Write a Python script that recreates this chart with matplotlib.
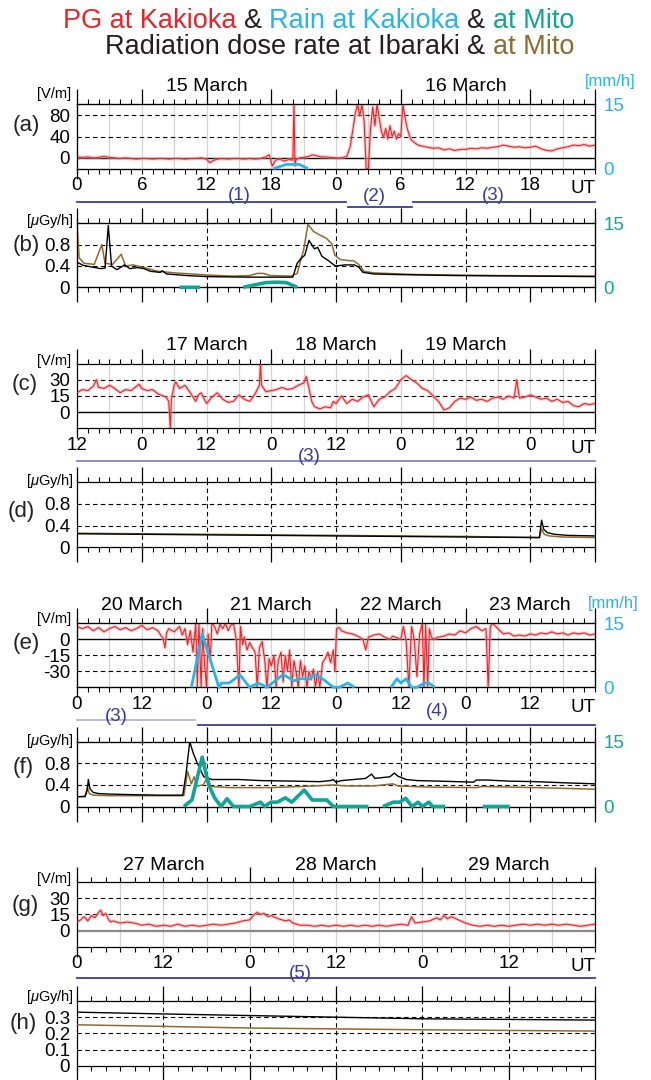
import numpy as np
import matplotlib
matplotlib.use("Agg")
import matplotlib.pyplot as plt
import matplotlib.transforms as mtransforms
from matplotlib.ticker import MultipleLocator, FixedLocator

plt.rcParams["font.family"] = ["Liberation Sans", "DejaVu Sans"]
plt.rcParams["mathtext.fontset"] = "custom"
plt.rcParams["mathtext.it"] = "Liberation Sans:italic"
plt.rcParams["mathtext.rm"] = "Liberation Sans"

RED = "#ec2229"
PINK = "#f6a3a3"
CYAN = "#27b4e8"
TEAL = "#10a596"
BROWN = "#8d6b30"
NAVY = "#3b3b9b"
LAVENDER = "#8585c4"
PALE = "#b3b4e3"

# ---- (a) PG at Kakioka, 15-16 March (hours from 15 Mar 00 UT) ----
pg_a_t = [0, 0.5, 1, 1.5, 2, 2.5, 3, 3.5, 4, 4.5, 5, 5.5, 6, 6.5, 7, 7.5, 8, 8.5, 9, 9.5,
          10, 10.5, 11, 11.5, 12, 12.3, 12.6, 13, 13.5, 14, 14.5, 15, 15.5, 16, 16.5, 17,
          17.5, 17.8, 18.1, 18.4, 18.8, 19.2, 19.6, 20.0, 20.1, 20.2, 20.3, 20.6, 21, 21.5,
          21.8, 22.2, 22.6, 23, 23.5, 24, 24.5, 25, 25.3, 25.6, 25.8, 26.0, 26.2, 26.4, 26.6,
          26.8, 27.0, 27.2, 27.4, 27.6, 27.8, 28.0, 28.2, 28.4, 28.6, 28.8, 29.0, 29.2, 29.4,
          29.6, 29.8, 30.0, 30.2, 30.4, 30.6, 30.8, 31.0, 31.3, 31.6, 32, 32.5, 33, 33.5, 34,
          34.5, 35, 35.5, 36, 36.5, 37, 37.5, 38, 38.5, 39, 39.5, 40, 40.5, 41, 41.5, 42, 42.5,
          43, 43.5, 44, 44.5, 45, 45.5, 46, 46.5, 47, 47.5, 48]
pg_a_v = [2, 1, 2, 0, 1, 3, 1, 0, -1, 0, -1, -2, -1, -1, -2, -1, -1, -2, -1, -1,
          -2, -1, -1, 0, -2, -9, -5, -2, -1, -2, -1, -1, -2, -1, -2, -1,
          2, 6, -15, -4, -2, -6, -3, -4, 100, -15, -3, 0, 1, 3,
          6, 4, 2, 2, 1, 0, 0, 3, 20, 58, 85, 100, 78, 100, 70,
          -20, -20, 55, 95, 60, 100, 75, 50, 38, 55, 35, 60, 40, 50,
          35, 45, 40, 100, 75, 55, 42, 33, 28, 24, 22, 20, 18, 19, 15,
          17, 14, 16, 16, 18, 17, 19, 18, 20, 21, 24, 22, 20, 21, 19, 20, 22,
          17, 14, 13, 17, 19, 21, 24, 23, 25, 22, 24]
rain_kak_a_t = [18.2, 19.4, 20.6, 21.4]
rain_kak_a_v = [0, 1.0, 1.0, 0]

# ---- (b) dose rate, 15-16 March ----
dose_ib_b_t = [0, 0.6, 1.4, 2.2, 2.6, 2.9, 3.2, 3.7, 4.4, 4.9, 5.6, 6.2, 6.8, 7.7, 7.9, 8.3,
               10.2, 12.1, 16, 20.0, 20.4, 20.8, 21.1, 21.5, 22.0, 22.3, 22.7, 23.3, 23.8,
               24.0, 24.8, 25.7, 26.1, 26.5, 27.5, 29.4, 35, 42, 48]
dose_ib_b_v = [0.47, 0.41, 0.38, 0.35, 0.36, 1.16, 0.40, 0.33, 0.42, 0.35, 0.37, 0.35, 0.30,
               0.28, 0.31, 0.25, 0.22, 0.20, 0.19, 0.19, 0.45, 0.55, 0.60, 0.88, 0.72, 0.75,
               0.58, 0.50, 0.42, 0.40, 0.42, 0.42, 0.38, 0.28, 0.25, 0.24, 0.22, 0.21, 0.20]
dose_mi_b_t = [0, 0.2, 0.65, 1.6, 2.3, 2.6, 3.3, 4.1, 4.5, 5.2, 6.4, 7.5, 9.1, 12.1, 14.4,
               16, 16.7, 17.3, 17.9, 19.8, 20.4, 21.0, 21.4, 21.9, 22.5, 23.1, 23.6, 23.9,
               24.4, 25.2, 25.6, 26.1, 26.6, 27.5, 31.3, 39, 48]
dose_mi_b_v = [1.2, 0.55, 0.45, 0.43, 0.80, 0.45, 0.43, 0.62, 0.40, 0.42, 0.36, 0.30, 0.27,
               0.23, 0.21, 0.22, 0.26, 0.26, 0.22, 0.21, 0.26, 0.70, 1.18, 1.05, 0.98, 0.92,
               0.82, 0.60, 0.52, 0.50, 0.50, 0.43, 0.30, 0.27, 0.24, 0.22, 0.21]
rain_mito_b_t = [9.5, 11.4, 11.5, 15.4, 16.5, 17.5, 18.5, 19.4, 20.4]
rain_mito_b_v = [0, 0, np.nan, 0, 0.6, 1.1, 1.2, 1.1, 0]

# ---- (c) PG, 16 Mar 12 UT - 20 Mar 12 UT ----
pg_c_t = [0, 1, 2, 3, 3.6, 4, 5, 6, 7, 8, 9, 10, 11, 11.5, 12, 13, 14, 15, 16, 16.5, 17, 17.3,
          17.5, 18, 18.3, 19, 20, 21, 22, 22.5, 23, 24, 25, 26, 27, 28, 29, 30, 31, 32, 33,
          33.8, 34, 34.2, 35, 36, 37, 38, 39, 40, 41, 42, 42.5, 43, 43.5, 44, 45, 46, 47, 47.5,
          48, 49, 50, 51, 52, 53, 54, 55, 56, 57, 58, 59, 60, 61, 62, 63, 64, 65, 66, 67, 68,
          69, 70, 71, 72, 73, 74, 75, 76, 77, 78, 79, 80, 81, 81.5, 82, 83, 84, 85, 86, 87,
          88, 89, 90, 91, 92, 93, 94, 95, 96]
pg_c_v = [18, 21, 20, 24, 30, 23, 22, 25, 22, 18, 21, 20, 24, 26, 22, 20, 21, 17, 15, 14, 10, -15,
          12, 25, 28, 22, 25, 18, 10, 16, 18, 8, 14, 18, 12, 9, 10, 16, 12, 10, 17,
          25, 45, 25, 19, 20, 21, 23, 21, 22, 25, 27, 33, 22, 10, 5, 3, 5, 4, 10,
          8, 15, 8, 12, 10, 14, 16, 5, 12, 14, 19, 22, 30, 34, 30, 27, 22, 20, 15, 10, 2,
          4, 10, 13, 12, 14, 11, 12, 10, 13, 14, 12, 15, 13, 30, 13, 14, 16, 14, 12, 13,
          10, 12, 9, 10, 6, 5, 8, 7, 8]

# ---- (d) dose rate, same interval as (c) ----
dose_ib_d_t = [0, 24, 48, 72, 85.7, 86.1, 86.5, 87.2, 88.5, 91, 96]
dose_ib_d_v = [0.25, 0.23, 0.21, 0.19, 0.18, 0.50, 0.33, 0.27, 0.24, 0.22, 0.21]
dose_mi_d_t = [0, 24, 48, 72, 85.7, 86.1, 86.6, 87.5, 90, 96]
dose_mi_d_v = [0.26, 0.24, 0.22, 0.20, 0.18, 0.34, 0.24, 0.21, 0.19, 0.18]

# ---- (e) PG, 20 Mar 00 UT - 24 Mar 00 UT ----
pg_e_t = [0, 1, 2, 3, 4, 5, 6, 7, 8, 9, 10, 11, 12, 13, 14, 15, 16, 16.3, 16.6, 17, 18, 19,
          19.5, 20, 20.5, 21, 21.5, 22, 22.3, 22.6, 23, 23.3, 23.6, 24, 24.3, 24.7, 25, 25.5,
          26, 26.5, 27, 27.5, 28, 28.5, 29, 29.5, 30, 30.3, 30.7, 31, 31.5, 32, 32.5, 33,
          33.4, 33.8, 34.3, 34.8, 35.2, 35.6, 36, 36.5, 36.9, 37.3, 37.8, 38.2, 38.6, 39,
          39.4, 39.8, 40.2, 40.6, 41, 41.4, 41.8, 42.2, 42.6, 43, 43.4, 43.8, 44.2, 44.6, 45,
          45.5, 46, 46.5, 47, 47.5, 47.8, 48.1, 48.6, 49, 50, 51, 52, 53, 53.5, 54, 55, 56,
          57, 58, 58.5, 59, 60, 60.5, 61, 61.5, 62, 62.5, 63, 63.5, 64, 64.3, 64.6, 65, 65.3,
          65.7, 66, 67, 68, 69, 70, 71, 72, 73, 74, 75, 75.8, 76.2, 76.6, 77, 78, 79, 80, 81,
          82, 83, 84, 85, 86, 87, 88, 89, 90, 91, 92, 93, 94, 95, 96]
pg_e_v = [12, 10, 12, 8, 11, 7, 10, 12, 9, 11, 8, 10, 13, 9, 11, 8, 0, -8, 6, 10, 7, 12,
          4, 10, -5, 8, -12, 15, -45, 15, -45, 10, -20, -45, 5, -20, 15, 12,
          5, 14, 10, 15, 8, 13, 15, 0, -45, 12, -5, 2, -10, -3, -8, -12,
          -45, -8, -2, -20, -45, -18, -25, -15, -45, -20, -12, -40, -15, -30,
          -10, -45, -20, -30, -45, -20, -35, -25, -45, -30, -38, -28, -45, -30, -45,
          -22, -18, -12, -22, -10, -30, 10, 11, 8, 6, 5, 3, 0, -10, 2, 4, 5,
          2, 0, 3, 2, 0, 12, -2, -45, 12, 0, -35, 5, 15, -45, 14, -45, 10,
          2, 0, 2, 3, 5, 4, 8, 6, 10, 12, 8, 10, -45, 12, 15, 10, 5, 6, 3,
          4, 3, 5, 4, 6, 5, 7, 5, 6, 4, 6, 5, 6, 4, 5]
rain_kak_e_t = [21.2, 23.2, 26.3, 26.8, 28.2, 30.2, 32, 33.6, 35.2, 36.7, 38.2, 40.2, 41.3,
                43.2, 44, 45.5, 47.5, 48.6, 50.2, 51.4, 51.5, 58.2, 59.3, 60, 61, 62, 63,
                64.4, 65.2, 66.3]
rain_kak_e_v = [0, 12.5, 0, 1, 1, 2.9, 0, 1, 0, 1.5, 3, 1.5, 2, 2, 3, 2, 0, 0, 1, 0, np.nan,
                0, 2, 1, 2, 0, 0, 1, 1, 0]

# ---- (f) dose rate, same interval as (e) ----
dose_ib_f_t = [0, 1.5, 1.9, 2.1, 2.4, 3, 4, 6, 10, 15, 19.6, 20.2, 20.9, 21.5, 22.3, 23.5,
               25, 30, 34, 40, 45, 47, 47.5, 48, 49, 51.3, 53.5, 54.6, 55.2, 57, 58, 58.8,
               59.5, 61, 63, 67, 70.5, 73.5, 74, 76, 80, 85, 90, 96]
dose_ib_f_v = [0.18, 0.19, 0.30, 0.50, 0.33, 0.26, 0.24, 0.23, 0.22, 0.21, 0.21, 0.60, 1.20,
               1.00, 0.80, 0.55, 0.50, 0.50, 0.48, 0.47, 0.46, 0.48, 0.50, 0.45, 0.48, 0.50,
               0.52, 0.60, 0.52, 0.54, 0.55, 0.62, 0.56, 0.50, 0.48, 0.47, 0.46, 0.45, 0.49,
               0.49, 0.47, 0.46, 0.44, 0.42]
dose_mi_f_t = [0, 1.5, 1.9, 2.3, 3, 6, 19.8, 20.5, 21.2, 21.7, 22.2, 23.4, 24.2, 24.8, 28.2,
               36, 44, 47.5, 50, 55, 58.5, 59.5, 65, 74, 75, 85, 96]
dose_mi_f_v = [0.18, 0.18, 0.35, 0.24, 0.21, 0.20, 0.20, 0.65, 0.42, 0.55, 0.38, 0.40, 0.55,
               0.37, 0.35, 0.35, 0.38, 0.40, 0.38, 0.38, 0.42, 0.38, 0.36, 0.35, 0.37, 0.35,
               0.32]
rain_mito_f_t = [19.8, 21.3, 23.2, 24.4, 25.5, 26.7, 27.8, 29.0, 32.0, 34.0, 34.8, 35.9,
                 37.1, 38.6, 39.8, 42.1, 43.6, 46.3, 47.5, 54.0, 54.1, 56.7, 58.6, 59.8,
                 60.9, 62.1, 63.2, 64.0, 65.2, 65.9, 68.2, 68.3, 75.2, 80.2]
rain_mito_f_v = [0, 1.5, 11.4, 5, 2, 0, 1.8, 0, 0, 1, 0, 1, 1, 2, 1, 3.8, 1.5, 1.5, 0, 0,
                 np.nan, 0, 1, 1, 1.9, 0, 1, 0, 1, 0, 0, np.nan, 0, 0]

# ---- (g) PG, 27 Mar 00 UT - 30 Mar 00 UT ----
pg_g_t = [0, 0.5, 1, 1.5, 2, 2.5, 3, 3.3, 3.6, 4, 4.4, 4.7, 5, 6, 7, 8, 9, 10, 11, 12, 13,
          14, 15, 16, 17, 18, 19, 20, 21, 22, 23, 24, 24.5, 25, 25.5, 26, 26.5, 27, 28, 29,
          29.5, 30, 31, 32, 33, 34, 35, 36, 37, 38, 39, 40, 41, 42, 43, 44, 45, 46, 46.5,
          47, 48, 49, 50, 50.5, 51, 51.5, 52, 53, 54, 55, 56, 57, 58, 59, 60, 61, 62, 63,
          64, 65, 66, 67, 68, 69, 70, 71, 72]
pg_g_v = [8, 10, 13, 9, 14, 12, 17, 19, 14, 16, 10, 8, 9, 7, 8, 7, 5, 6, 4, 5, 4,
          6, 4, 5, 4, 5, 6, 5, 6, 7, 9, 10, 14, 17, 15, 16, 13, 14, 11, 9,
          10, 7, 5, 5, 4, 5, 4, 5, 4, 5, 4, 5, 4, 5, 4, 5, 6, 5, 13,
          7, 8, 9, 12, 10, 14, 11, 13, 10, 7, 5, 4, 5, 4, 5, 4, 5, 6, 5,
          6, 5, 6, 5, 6, 5, 4, 5, 6]

# ---- (h) dose rate, same interval as (g) ----
dose_ib_h_t = [0, 12, 24, 36, 48, 60, 72]
dose_ib_h_v = [0.331, 0.320, 0.310, 0.300, 0.290, 0.286, 0.282]
dose_mi_h_t = [0, 24, 48, 72]
dose_mi_h_v = [0.253, 0.233, 0.222, 0.214]

# tick labels of the PG panels
ticks_a = ["0", "6", "12", "18", "0", "6", "12", "18"]
ticks_c = ["12", "0", "12", "0", "12", "0", "12", "0"]
ticks_e = ["0", "12", "0", "12", "0", "12", "0", "12"]
ticks_g = ["0", "12", "0", "12", "0", "12"]

W, H = 651, 1080
X0, X1 = 77, 595
fig = plt.figure(figsize=(W / 100, H / 100), dpi=100)


def fy(px):
    return 1 - px / H


def panel(top, bottom, span, minor):
    ax = fig.add_axes([X0 / W, fy(bottom), (X1 - X0) / W, (bottom - top) / H])
    ax.set_xlim(0, span)
    ax.xaxis.set_minor_locator(MultipleLocator(minor))
    ax.tick_params(axis="x", which="both", direction="out", top=True, bottom=True,
                   length=3.6, width=0.8, labelsize=13.5, pad=2.5)
    ax.tick_params(axis="y", length=0, labelsize=13.5, pad=5)
    for sp in ax.spines.values():
        sp.set_linewidth(0.9)
    return ax


def tall(ax, xs, hpx, up=15, down=0):
    tr = mtransforms.blended_transform_factory(ax.transData, ax.transAxes)
    if up:
        ax.vlines(xs, 1, 1 + up / hpx, transform=tr, color="k", lw=0.9, clip_on=False)
    if down:
        ax.vlines(xs, -down / hpx, 0, transform=tr, color="k", lw=0.9, clip_on=False)


def fig_text(ax, x, ypx, s, **kw):
    tr = mtransforms.blended_transform_factory(ax.transData, fig.transFigure)
    ax.text(x, fy(ypx), s, transform=tr, **kw)


def pg_panel(top, bottom, t, v, span, ylim, yticks, dashed, minor, gray, ticks, labels,
             tall_x, zero_color="k"):
    ax = panel(top, bottom, span, minor)
    hpx = bottom - top
    ax.set_ylim(*ylim)
    ax.set_yticks(yticks)
    ax.set_xticks(ticks, labels)
    for x in np.arange(gray, span, gray):
        ax.axvline(x, color="#d4d4d4", lw=0.9, zorder=0)
    for y in dashed:
        ax.axhline(y, color="k", lw=0.8, ls=(0, (4, 3)), zorder=1)
    ax.axhline(0, color=zero_color, lw=1.0 if zero_color == "k" else 1.6, zorder=1)
    # pale band underneath gives the smeared look of the 1-s record
    ax.plot(t, v, color=PINK, lw=2.4, alpha=0.55, zorder=2)
    ax.plot(t, v, color=RED, lw=0.8, zorder=3)
    tall(ax, tall_x, hpx, up=15)
    tall(ax, [0], hpx, up=0, down=10)
    tr = mtransforms.blended_transform_factory(ax.transData, ax.transAxes)
    ax.text(span, -20 / hpx, "UT", transform=tr, ha="right", va="center", fontsize=13.5)
    return ax


def dose_panel(top, bottom, span, ylim, yticks, ylabels, dashed, minor, vdash, tall_x,
               ib, mi):
    ax = panel(top, bottom, span, minor)
    hpx = bottom - top
    ax.set_ylim(*ylim)
    ax.set_yticks(yticks, ylabels)
    ax.xaxis.set_major_locator(FixedLocator(tall_x))
    ax.tick_params(axis="x", which="both", labelbottom=False)
    for y in dashed:
        ax.axhline(y, color="k", lw=0.8, ls=(0, (4, 3)), zorder=1)
    for x in vdash:
        ax.axvline(x, color="k", lw=0.8, ls=(0, (4, 3)), zorder=1)
    ax.plot(mi[0], mi[1], color=BROWN, lw=1.1, zorder=3)
    ax.plot(ib[0], ib[1], color="k", lw=1.0, zorder=4)
    tall(ax, tall_x, hpx, up=15, down=15)
    return ax


def rain_axis(ax, t, v, color, lw):
    ar = ax.twinx()
    ar.set_ylim(0, 15)
    ar.set_yticks([0, 15])
    ar.tick_params(axis="y", length=0, labelcolor=color, labelsize=13.5, pad=6)
    ar.plot(t, v, color=color, lw=lw, clip_on=False, zorder=5,
            solid_capstyle="butt")
    return ar


# ---------------- panels ----------------
ax_a = pg_panel(104.3, 168.7, pg_a_t, pg_a_v, 48, (-20, 100), [0, 40, 80], [40, 80], 1, 3,
                list(range(0, 48, 6)), ticks_a, list(range(0, 49, 6)))
rain_axis(ax_a, rain_kak_a_t, rain_kak_a_v, CYAN, 2.0)

ax_b = dose_panel(223.3, 287.3, 48, (0, 1.2), [0, 0.4, 0.8], ["0", "0.4", "0.8"], [0.4, 0.8],
                  1, [12, 24, 36], list(range(0, 49, 6)),
                  (dose_ib_b_t, dose_ib_b_v), (dose_mi_b_t, dose_mi_b_v))
rain_axis(ax_b, rain_mito_b_t, rain_mito_b_v, TEAL, 2.6)

ax_c = pg_panel(363.7, 428.3, pg_c_t, pg_c_v, 96, (-15, 45), [0, 15, 30], [15, 30], 2, 6,
                list(range(0, 96, 12)), ticks_c, [0, 12, 36, 60, 84, 96])

ax_d = dose_panel(482.3, 547.3, 96, (0, 1.2), [0, 0.4, 0.8], ["0", "0.4", "0.8"], [0.4, 0.8],
                  2, list(range(12, 96, 12)), [0, 12, 36, 60, 84, 96],
                  (dose_ib_d_t, dose_ib_d_v), (dose_mi_d_t, dose_mi_d_v))

ax_e = pg_panel(623.3, 687.3, pg_e_t, pg_e_v, 96, (-45, 15), [0, -15, -30], [-15, -30], 2, 6,
                list(range(0, 96, 12)), ticks_e, [0, 24, 48, 72, 96])
ax_e.set_yticks([0, -15, -30], ["0", "-15", "-30"])
rain_axis(ax_e, rain_kak_e_t, rain_kak_e_v, CYAN, 2.0)

ax_f = dose_panel(741.7, 806.5, 96, (0, 1.2), [0, 0.4, 0.8], ["0", "0.4", "0.8"], [0.4, 0.8],
                  2, list(range(12, 96, 12)), list(range(0, 97, 12)),
                  (dose_ib_f_t, dose_ib_f_v), (dose_mi_f_t, dose_mi_f_v))
rain_axis(ax_f, rain_mito_f_t, rain_mito_f_v, TEAL, 2.6)

ax_g = pg_panel(882.3, 946.7, pg_g_t, pg_g_v, 72, (-15, 45), [0, 15, 30], [15, 30], 2, 6,
                list(range(0, 72, 12)), ticks_g, [0, 24, 48, 72], zero_color="#8a8a8a")

ax_h = dose_panel(1001, 1065.7, 72, (0, 0.4), [0, 0.1, 0.2, 0.3], ["0", "0.1", "0.2", "0.3"],
                  [0.1, 0.2, 0.3], 2, list(range(12, 72, 12)), list(range(0, 73, 12)),
                  (dose_ib_h_t, dose_ib_h_v), (dose_mi_h_t, dose_mi_h_v))

# ---------------- labels ----------------
for letter, xpx, ypx in [("(a)", 26, 125), ("(b)", 26, 245), ("(c)", 25, 385),
                         ("(d)", 21, 512), ("(e)", 26, 643), ("(f)", 23, 767),
                         ("(g)", 25, 905), ("(h)", 23, 1023)]:
    fig.text(xpx / W, fy(ypx), letter, fontsize=16, ha="center", va="center", color="#222")

for ypx in [94, 360.5, 619.5, 879]:
    fig.text(71 / W, fy(ypx), "[V/m]", fontsize=10.5, ha="right", va="center")
for ypx in [221.5, 481, 740.5, 997]:
    fig.text(74 / W, fy(ypx), r"[$\mathit{\mu}$Gy/h]", fontsize=10.5, ha="right", va="center")

fig.text(610.5 / W, fy(81.7), "[mm/h]", fontsize=12, color=CYAN, ha="center", va="center")
fig.text(613 / W, fy(603.3), "[mm/h]", fontsize=12, color=CYAN, ha="center", va="center")

for ax, pos, names, ypx in [(ax_a, [12, 36], ["15 March", "16 March"], 86.7),
                            (ax_c, [24, 48, 72], ["17 March", "18 March", "19 March"], 345),
                            (ax_e, [12, 36, 60, 84],
                             ["20 March", "21 March", "22 March", "23 March"], 605),
                            (ax_g, [12, 36, 60], ["27 March", "28 March", "29 March"], 865)]:
    for x, s in zip(pos, names):
        fig_text(ax, x, ypx, s, fontsize=14, ha="center", va="center")

# analysis periods (hours on each panel's own axis)
periods = [
    (ax_a, "(1)", 0, 24.9, 201.7, 15.0, 195, NAVY),
    (ax_a, "(2)", 25.1, 31.0, 206.7, 27.6, 196.7, NAVY),
    (ax_a, "(3)", 31.1, 48, 201.7, 38.6, 195, NAVY),
    (ax_c, "(3)", 0, 96, 460.7, 43, 456.7, LAVENDER),
    (ax_e, "(3)", 0, 21.9, 719.5, 7.2, 716.7, PALE),
    (ax_e, "(4)", 22.4, 96, 725, 66.8, 712, NAVY),
    (ax_g, "(5)", 0, 72, 978.3, 31, 974, NAVY),
]
for ax, lab, t0, t1, ypx, tx, typx, col in periods:
    tr = mtransforms.blended_transform_factory(ax.transData, fig.transFigure)
    ax.plot([t0, t1], [fy(ypx), fy(ypx)], transform=tr, color=col, lw=1.3, clip_on=False)
    ax.text(tx, fy(typx), lab, transform=tr, color=NAVY, fontsize=13.5, ha="center",
            va="center")

# ---------------- two-colour title ----------------
renderer = fig.canvas.get_renderer()


def colored_line(parts, x_right, ybase, size):
    space = size * 100 / 72 * 0.278
    x = x_right
    for s, c in reversed(parts):
        t = fig.text(x / W, fy(ybase), s, color=c, fontsize=size, ha="right",
                     va="baseline")
        bb = t.get_window_extent(renderer=renderer)
        x = bb.x0 - space


colored_line([("PG at Kakioka", RED), ("&", "#231f20"), ("Rain at Kakioka", CYAN),
              ("&", "#231f20"), ("at Mito", TEAL)], 574, 28, 19.5)
colored_line([("Radiation dose rate at Ibaraki", "#231f20"), ("&", "#231f20"),
              ("at Mito", BROWN)], 574, 54, 19.5)

fig.savefig("out.png", dpi=100)
